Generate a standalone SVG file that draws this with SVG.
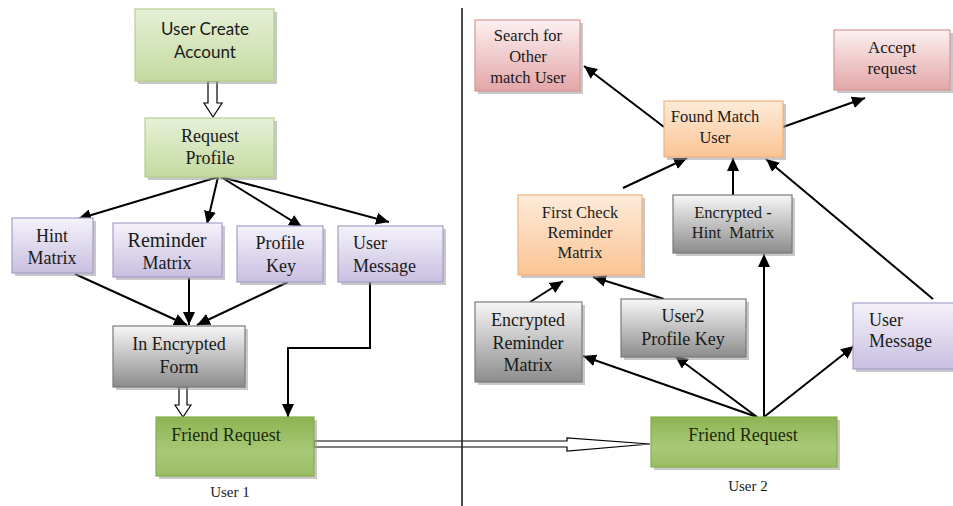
<svg xmlns="http://www.w3.org/2000/svg" width="953" height="506" viewBox="0 0 953 506">
<defs>
<linearGradient id="gGreen" x1="0" y1="0" x2="0" y2="1"><stop offset="0" stop-color="#e6f0d8"/><stop offset="1" stop-color="#c4da9f"/></linearGradient>
<linearGradient id="gFR" x1="0" y1="0" x2="0" y2="1"><stop offset="0" stop-color="#8db552"/><stop offset="0.6" stop-color="#a8c978"/><stop offset="1" stop-color="#9abd62"/></linearGradient>
<linearGradient id="gPurple" x1="0" y1="0" x2="0" y2="1"><stop offset="0" stop-color="#f5f2fa"/><stop offset="1" stop-color="#c8bfe0"/></linearGradient>
<linearGradient id="gGray" x1="0" y1="0" x2="0" y2="1"><stop offset="0" stop-color="#f7f7f7"/><stop offset="1" stop-color="#8c8c8c"/></linearGradient>
<linearGradient id="gPink" x1="0" y1="0" x2="0" y2="1"><stop offset="0" stop-color="#fcf0f0"/><stop offset="1" stop-color="#e3a6a8"/></linearGradient>
<linearGradient id="gOrange" x1="0" y1="0" x2="0" y2="1"><stop offset="0" stop-color="#fdebda"/><stop offset="1" stop-color="#fbc494"/></linearGradient>
<marker id="ah" markerUnits="userSpaceOnUse" markerWidth="14" markerHeight="12" refX="13" refY="6" orient="auto">
<path d="M0,0 L13,6 L0,12 Z" fill="#000"/>
</marker>
<style>
.sh{fill:#9a9a9a;opacity:0.55}
.green{fill:url(#gGreen);stroke:#b8cf90;stroke-width:1.2}
.fr{fill:url(#gFR);stroke:#86ad4c;stroke-width:1.2}
.purple{fill:url(#gPurple);stroke:#a79dca;stroke-width:1.2}
.gray{fill:url(#gGray);stroke:#7a7a7a;stroke-width:1.2}
.pink{fill:url(#gPink);stroke:#d89698;stroke-width:1.2}
.orange{fill:url(#gOrange);stroke:#f2b27e;stroke-width:1.2}
.t{font-family:"Liberation Serif","Times New Roman",serif;font-size:18px;fill:#1a1a1a;text-anchor:middle}
.ts{font-family:"Liberation Serif","Times New Roman",serif;font-size:16.5px;fill:#1a1a1a;text-anchor:middle}
.tl{font-family:"Liberation Serif","Times New Roman",serif;font-size:18px;fill:#1a1a1a}
.tc{font-family:Lato,"Open Sans",sans-serif;font-size:17px;fill:#1a1a1a;text-anchor:middle}
.tfr{font-family:"Liberation Serif","Times New Roman",serif;font-size:18px;fill:#1c2a0c;text-anchor:middle}
.lab{font-family:"Liberation Serif","Times New Roman",serif;font-size:15px;fill:#1a1a1a;text-anchor:middle}
.ln{stroke:#000;stroke-width:2;fill:none;marker-end:url(#ah)}
.hollow{fill:#fff;stroke:#000;stroke-width:1.2}
</style>
</defs>
<rect width="953" height="506" fill="#fff"/>

<g id="connectors">
<polygon class="hollow" points="208,81 217,81 217,103 222,103 213,117 204,103 208,103"/>
<polygon class="hollow" points="179,387 187,387 187,405 191,405 183,417 175,405 179,405"/>
<line class="ln" x1="218" y1="177" x2="78" y2="219"/>
<line class="ln" x1="218" y1="177" x2="207" y2="224"/>
<line class="ln" x1="221" y1="177" x2="302" y2="227"/>
<line class="ln" x1="221" y1="177" x2="389" y2="222"/>
<line class="ln" x1="75" y1="274" x2="187" y2="325"/>
<line class="ln" x1="189" y1="278" x2="189" y2="325"/>
<line class="ln" x1="288" y1="282" x2="197" y2="325"/>
<path class="ln" d="M370,282 V348 H288 V417"/>
<polygon class="hollow" points="314,441 567,441 567,438 650,444 567,451 567,447 314,447"/>
<line class="ln" x1="664" y1="127" x2="584" y2="66"/>
<line class="ln" x1="783" y1="127" x2="865" y2="98"/>
<line class="ln" x1="623" y1="188" x2="687" y2="158"/>
<line class="ln" x1="733" y1="195" x2="733" y2="158"/>
<line class="ln" x1="933" y1="299" x2="766" y2="159"/>
<line class="ln" x1="530" y1="302" x2="563" y2="281"/>
<line class="ln" x1="664" y1="299" x2="593" y2="277"/>
<line class="ln" x1="757" y1="417" x2="583" y2="356"/>
<line class="ln" x1="757" y1="417" x2="675" y2="356"/>
<line class="ln" x1="764" y1="417" x2="764" y2="254"/>
<line class="ln" x1="764" y1="417" x2="854" y2="346"/>
</g>

<line id="divider" x1="462" y1="8" x2="462" y2="506" stroke="#222" stroke-width="1.6"/>

<g id="userCreate">
<rect class="sh" x="138" y="12" width="139" height="72"/>
<rect class="green" x="135" y="9" width="139" height="72"/>
<text class="tc" x="205" y="35">User Create</text>
<text class="tc" x="205" y="58">Account</text>
</g>

<g id="requestProfile">
<rect class="sh" x="148" y="121" width="129" height="59"/>
<rect class="green" x="145" y="118" width="129" height="59"/>
<text class="t" x="210" y="142">Request</text>
<text class="t" x="210" y="164">Profile</text>
</g>

<g id="hintMatrix">
<rect class="sh" x="15" y="221" width="81" height="55"/>
<rect class="purple" x="12" y="218" width="81" height="55"/>
<text class="t" x="52" y="242">Hint</text>
<text class="t" x="52" y="264">Matrix</text>
</g>

<g id="reminderMatrix">
<rect class="sh" x="116" y="226" width="109" height="54"/>
<rect class="purple" x="113" y="223" width="109" height="54"/>
<text class="t" x="167" y="247" style="font-size:20px">Reminder</text>
<text class="t" x="167" y="269">Matrix</text>
</g>

<g id="profileKey">
<rect class="sh" x="240" y="229" width="86" height="56"/>
<rect class="purple" x="237" y="226" width="86" height="56"/>
<text class="t" x="280" y="249">Profile</text>
<text class="t" x="281" y="272">Key</text>
</g>

<g id="userMessage1">
<rect class="sh" x="341" y="229" width="105" height="56"/>
<rect class="purple" x="338" y="226" width="105" height="56"/>
<text class="tl" x="353" y="249">User</text>
<text class="tl" x="353" y="272">Message</text>
</g>

<g id="encryptedForm">
<rect class="sh" x="116" y="329" width="132" height="61"/>
<rect class="gray" x="113" y="326" width="132" height="61"/>
<text class="t" x="179" y="350">In Encrypted</text>
<text class="t" x="179" y="373">Form</text>
</g>

<g id="friendRequest1">
<rect class="sh" x="159" y="420" width="158" height="59"/>
<rect class="fr" x="156" y="417" width="158" height="59"/>
<text class="tfr" x="226" y="441">Friend Request</text>
</g>
<text class="lab" x="230" y="497">User 1</text>

<g id="searchOther">
<rect class="sh" x="478" y="23" width="105" height="71"/>
<rect class="pink" x="475" y="20" width="105" height="71"/>
<text class="ts" x="528" y="41">Search for</text>
<text class="ts" x="528" y="62">Other</text>
<text class="ts" x="528" y="83">match User</text>
</g>

<g id="acceptRequest">
<rect class="sh" x="837" y="33" width="116" height="60"/>
<rect class="pink" x="834" y="30" width="116" height="60"/>
<text class="t" x="892" y="53" style="font-size:17px">Accept</text>
<text class="t" x="892" y="74" style="font-size:17px">request</text>
</g>

<g id="foundMatch">
<rect class="sh" x="667" y="104" width="119" height="56"/>
<rect class="orange" x="664" y="101" width="119" height="56"/>
<text class="ts" x="715" y="122">Found Match</text>
<text class="ts" x="715" y="143">User</text>
</g>

<g id="firstCheck">
<rect class="sh" x="521" y="198" width="124" height="80"/>
<rect class="orange" x="518" y="195" width="124" height="80"/>
<text class="ts" x="580" y="218">First Check</text>
<text class="ts" x="580" y="238">Reminder</text>
<text class="ts" x="580" y="258">Matrix</text>
</g>

<g id="encryptedHint">
<rect class="sh" x="676" y="198" width="119" height="58"/>
<rect class="gray" x="673" y="195" width="119" height="58"/>
<text class="ts" x="733" y="218">Encrypted -</text>
<text class="ts" x="733" y="238" xml:space="preserve">Hint  Matrix</text>
</g>

<g id="encryptedReminder">
<rect class="sh" x="478" y="305" width="107" height="80"/>
<rect class="gray" x="475" y="302" width="107" height="80"/>
<text class="t" x="528" y="326">Encrypted</text>
<text class="t" x="528" y="349">Reminder</text>
<text class="t" x="528" y="371">Matrix</text>
</g>

<g id="user2ProfileKey">
<rect class="sh" x="624" y="302" width="125" height="58"/>
<rect class="gray" x="621" y="299" width="125" height="58"/>
<text class="t" x="683" y="322">User2</text>
<text class="t" x="683" y="345">Profile Key</text>
</g>

<g id="userMessage2">
<rect class="sh" x="856" y="306" width="100" height="66"/>
<rect class="purple" x="853" y="303" width="102" height="66"/>
<text class="tl" x="869" y="326">User</text>
<text class="tl" x="869" y="347">Message</text>
</g>

<g id="friendRequest2">
<rect class="sh" x="654" y="420" width="186" height="50"/>
<rect class="fr" x="651" y="417" width="186" height="50"/>
<text class="tfr" x="743" y="441">Friend Request</text>
</g>
<text class="lab" x="748" y="491">User 2</text>
</svg>
